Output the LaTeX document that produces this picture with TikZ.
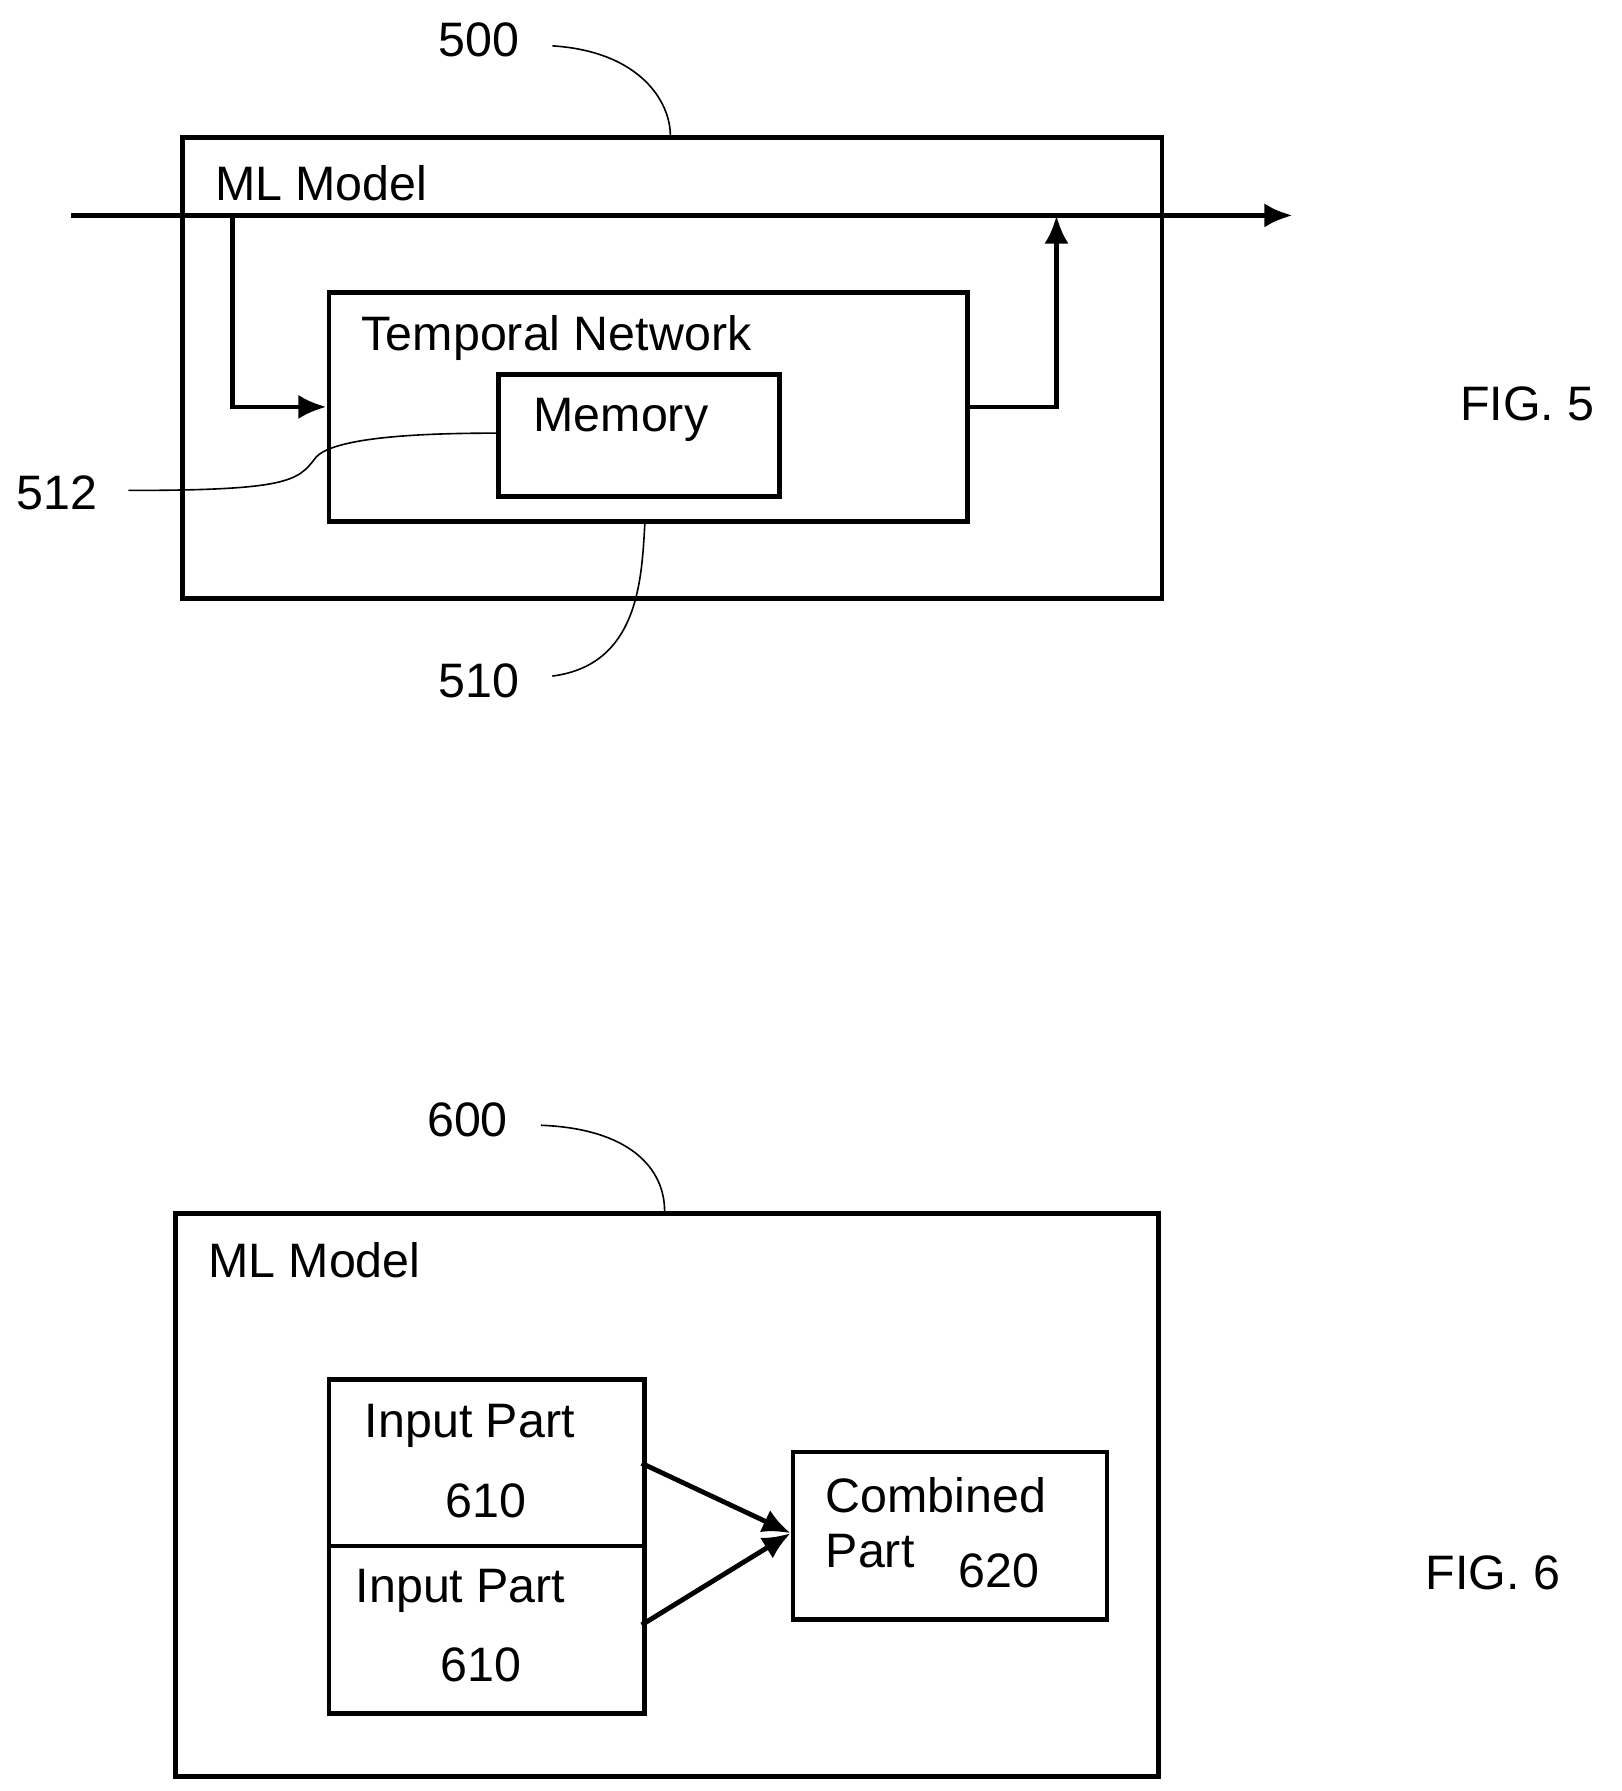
\documentclass[tikz,border=0pt]{standalone}
\usepackage{fontspec}
\setmainfont{Liberation Sans}
\usetikzlibrary{arrows.meta, positioning}
\tikzset{
  box/.style={draw, line width=1.2pt, anchor=north west, inner sep=0pt},
  lbl/.style={font=\fontsize{12}{14}\selectfont, anchor=west, inner sep=0pt},
  flow/.style={line width=1.2pt, -{Latex[length=7pt,width=6pt]}},
  lead/.style={line width=0.4pt}
}
\begin{document}
\begin{tikzpicture}[x=0.01cm, y=-0.01cm]
\useasboundingbox (0,0) rectangle (1415,1563);
% FIG. 5
\node[box, minimum width=855*0.01cm, minimum height=402*0.01cm] (model5) at (157,118) {};
\node[lbl] (mltext5) at (187,160) {ML Model};
\node[box, minimum width=557*0.01cm, minimum height=200*0.01cm] (temporal) at (285,253) {};
\node[lbl] (temptext) at (315,295) {Temporal Network};
\node[box, minimum width=245*0.01cm, minimum height=106*0.01cm] (memory) at (433,325) {};
\node[lbl] (memtext) at (465,366) {Memory};
\coordinate (in5) at (62,188);
\coordinate (out5) at (1128,188);
\coordinate (split) at (203,188);
\coordinate (merge) at (922,188);
\draw[flow] (in5) -- (out5);
\draw[flow] (split) |- (temporal.west);
\draw[flow] (temporal.east) -| (merge);
\node[lbl, anchor=center] (n500) at (418,35) {500};
\node[lbl, anchor=center] (n510) at (418,594) {510};
\node[lbl, anchor=center] (n512) at (50,430) {512};
\node[lbl, anchor=center] (fig5) at (1333,352) {FIG. 5};
\draw[lead] (482,40) .. controls (560,45) and (585,90) .. (model5.north -| 585,0);
\draw[lead] (482,590) .. controls (560,580) and (560,500) .. (563,453);
\draw[lead] (112,428) .. controls (250,428) and (260,420) .. (275,400) .. controls (290,380) and (380,378) .. (433,378);
% FIG. 6
\node[box, minimum width=858*0.01cm, minimum height=491*0.01cm] (model6) at (151,1057) {};
\node[lbl] (mltext6) at (181,1100) {ML Model};
\node[box, minimum width=275*0.01cm, minimum height=145*0.01cm] (inputA) at (285,1202) {};
\node[box, minimum width=275*0.01cm, minimum height=146*0.01cm] (inputB) at (285,1347) {};
\node[box, minimum width=274*0.01cm, minimum height=146*0.01cm] (combined) at (690,1265) {};
\node[lbl, anchor=center] at (410,1244) {Input Part};
\node[lbl, anchor=center] at (424,1310) {610};
\node[lbl, anchor=center] at (402,1388) {Input Part};
\node[lbl, anchor=center] at (420,1453) {610};
\node[lbl] at (720,1305) {Combined};
\node[lbl] at (720,1354) {Part};
\node[lbl, anchor=center] at (872,1371) {620};
\coordinate (joinA) at (560,1277);
\coordinate (joinB) at (560,1418);
\coordinate (target) at (690,1338);
\draw[flow] (joinA) -- (target);
\draw[flow] (joinB) -- (target);
\node[lbl, anchor=center] (n600) at (408,977) {600};
\node[lbl, anchor=center] (fig6) at (1303,1373) {FIG. 6};
\draw[lead] (472,982) .. controls (550,985) and (580,1020) .. (580,1057);
\end{tikzpicture}
\end{document}
